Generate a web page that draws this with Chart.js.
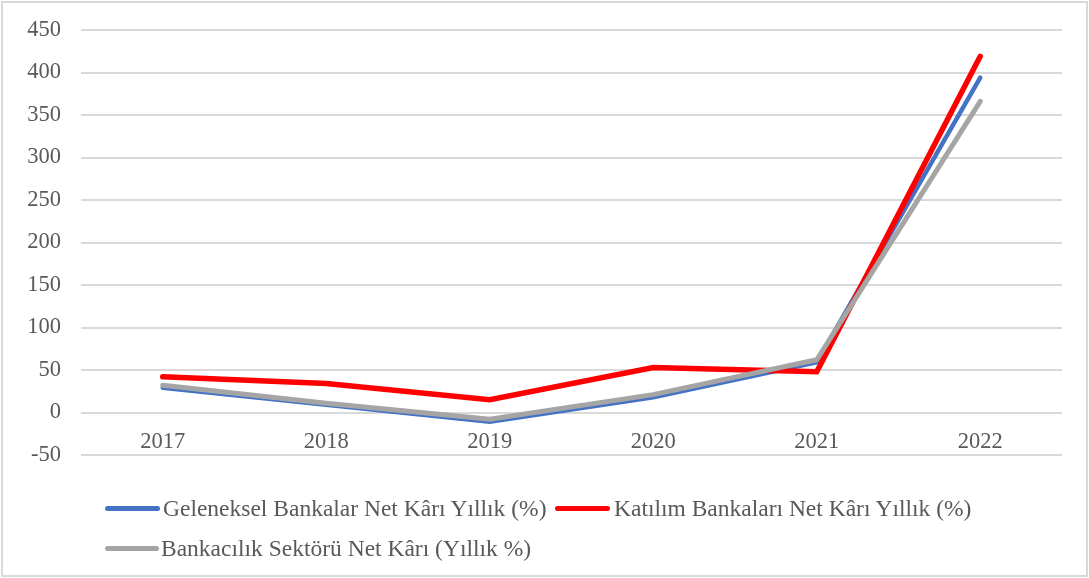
<!DOCTYPE html>
<html>
<head>
<meta charset="utf-8">
<script src="https://cdn.jsdelivr.net/npm/chart.js@4/dist/chart.umd.min.js"></script>
<style>
  html, body { margin: 0; padding: 0; background: #fff; }
  #wrap { position: relative; width: 1089px; height: 578px; box-sizing: border-box; }
  #frame { position: absolute; left: 1px; top: 1px; width: 1083px; height: 572px; border: 2px solid #d9d9d9; }
  #c { position: absolute; left: 0; top: 0; }
  .leg { position: absolute; height: 30px; line-height: 30px; font-family: 'Liberation Serif', 'Times New Roman', serif; font-size: 23.5px; color: #595959; white-space: nowrap; }
  .sw { position: absolute; top: 13px; height: 5px; border-radius: 3px; }
  .lt { position: absolute; top: 0; }
</style>
</head>
<body>
<div id="wrap">
  <div id="frame"></div>
  <canvas id="c" width="1089" height="578"></canvas>
  <div id="legend"></div>
</div>
<script>
const years = ["2017", "2018", "2019", "2020", "2021", "2022"];
const geleneksel = [29, 9, -11, 18, 59, 394];
const katilim = [42, 34, 15, 53, 48, 419];
const sektor = [32, 11, -8, 21, 62, 366];
const seriesNames = [
  "Geleneksel Bankalar Net Kârı Yıllık (%)",
  "Katılım Bankaları Net Kârı Yıllık (%)",
  "Bankacılık Sektörü Net Kârı (Yıllık %)"
];
const seriesColors = ["#4472C4", "#FF0000", "#A5A5A5"];
const yTicks = { min: -50, max: 450, step: 50 };

const font = { family: "'Liberation Serif', 'Times New Roman', serif", size: 22.5 };
const txt = "#595959";

new Chart(document.getElementById("c"), {
  type: "line",
  data: {
    labels: years,
    datasets: [
      { label: seriesNames[0], data: geleneksel, borderColor: seriesColors[0], backgroundColor: seriesColors[0], borderWidth: 4.5, order: 3 },
      { label: seriesNames[1], data: katilim, borderColor: seriesColors[1], backgroundColor: seriesColors[1], borderWidth: 5.5, order: 2 },
      { label: seriesNames[2], data: sektor, borderColor: seriesColors[2], backgroundColor: seriesColors[2], borderWidth: 5, order: 1 }
    ]
  },
  options: {
    responsive: false,
    animation: false,
    layout: { padding: { left: 0, right: 27, top: 30, bottom: 123 } },
    elements: { point: { radius: 0, hoverRadius: 0 }, line: { tension: 0, borderCapStyle: "round", borderJoinStyle: "miter" } },
    plugins: { legend: { display: false }, tooltip: { enabled: false } },
    scales: {
      x: {
        position: { y: 0 },
        offset: true,
        grid: { display: false, drawTicks: false },
        border: { display: false },
        ticks: { font: font, color: txt, padding: 16, maxRotation: 0 }
      },
      y: {
        min: yTicks.min, max: yTicks.max,
        afterFit: (s) => { s.width = 81; s.paddingTop = 0; s.paddingBottom = 0; },
        grid: { color: "#d9d9d9", lineWidth: 2, drawTicks: false },
        border: { display: false },
        ticks: { stepSize: yTicks.step, font: font, color: txt, padding: 20 }
      }
    }
  }
});

const legendPos = [
  { sw: 105, swEnd: 160, text: 163, top: 493 },
  { sw: 555, swEnd: 610, text: 614, top: 493 },
  { sw: 105, swEnd: 159, text: 161, top: 533 }
];
const legend = document.getElementById("legend");
seriesNames.forEach((n, i) => {
  const p = legendPos[i];
  const d = document.createElement("div");
  d.className = "leg";
  d.style.left = "0px";
  d.style.top = p.top + "px";
  const s = document.createElement("span");
  s.className = "sw";
  s.style.left = p.sw + "px";
  s.style.width = (p.swEnd - p.sw) + "px";
  s.style.background = seriesColors[i];
  const t = document.createElement("span");
  t.className = "lt";
  t.style.left = p.text + "px";
  t.textContent = n;
  d.appendChild(s);
  d.appendChild(t);
  legend.appendChild(d);
});
</script>
</body>
</html>
